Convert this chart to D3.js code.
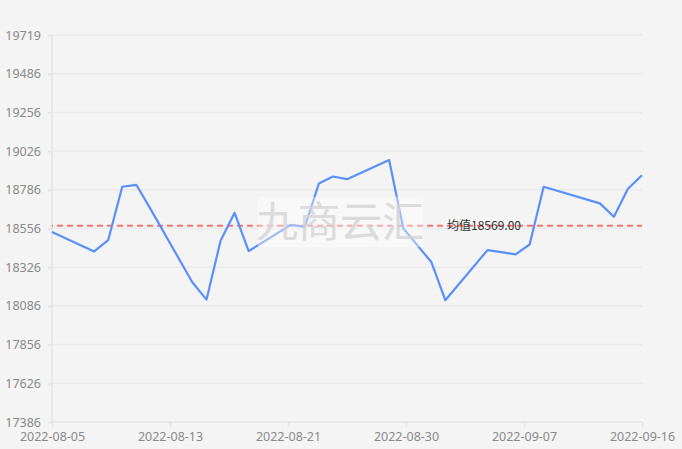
<!DOCTYPE html>
<html><head><meta charset="utf-8">
<script src="https://cdn.jsdelivr.net/npm/d3@7/dist/d3.min.js"></script>
<style>
html,body{margin:0;padding:0;background:#f4f4f4;}
svg{display:block;}
</style></head>
<body>
<svg id="chart" width="682" height="449"></svg>
<script>
const dates = ["2022-08-05","2022-08-08","2022-08-09","2022-08-10","2022-08-11","2022-08-12",
  "2022-08-15","2022-08-16","2022-08-17","2022-08-18","2022-08-19",
  "2022-08-22","2022-08-23","2022-08-24","2022-08-25","2022-08-26",
  "2022-08-29","2022-08-30","2022-08-31","2022-09-01","2022-09-02",
  "2022-09-05","2022-09-06","2022-09-07","2022-09-08","2022-09-09",
  "2022-09-13","2022-09-14","2022-09-15","2022-09-16"];
const prices = [18532,18414,18482,18804,18816,18672,
  18227,18124,18478,18647,18416,
  18574,18562,18824,18866,18850,
  18965,18555,18452,18351,18120,
  18422,18410,18396,18456,18804,
  18704,18623,18792,18874];
const yTickLabels = ["17386","17626","17856","18086","18326","18556","18786","19026","19256","19486","19719"];
const xTickLabels = ["2022-08-05","2022-08-13","2022-08-21","2022-08-30","2022-09-07","2022-09-16"];
const avgValue = 18569;
const avgLabel = "均值18569.00";
const watermark = "九商云汇";
const yMin = 17386, yMax = 19719;

const parse = d3.timeParse("%Y-%m-%d");
const data = dates.map((d,i)=>({date:parse(d), value:prices[i]}));

const svg = d3.select("#chart");
const margin = {left:52, right:40, top:35, bottom:27};
const W = 682, H = 449;
const x = d3.scaleTime().domain([parse(dates[0]), parse(dates[dates.length-1])]).range([margin.left, W-margin.right]);
const y = d3.scaleLinear().domain([yMin, yMax]).range([H-margin.bottom, margin.top]);

const font = "'Noto Sans','Open Sans',sans-serif";
const nY = yTickLabels.length - 1;
const yTickVals = yTickLabels.map((_,i)=> yMin + i*(yMax-yMin)/nY);
const nX = xTickLabels.length - 1;
const x0 = x.domain()[0].getTime(), x1 = x.domain()[1].getTime();
const xTickVals = xTickLabels.map((_,i)=> new Date(x0 + i*(x1-x0)/nX));

// grid
svg.append("g").selectAll("line").data(yTickVals.slice(1)).join("line")
  .attr("x1", margin.left).attr("x2", W-margin.right)
  .attr("y1", d=>y(d)).attr("y2", d=>y(d))
  .attr("stroke", "#e9e9e9").attr("stroke-width", 1.5);

// y axis
const yAxis = svg.append("g").attr("transform", `translate(${margin.left},0)`)
  .call(d3.axisLeft(y).tickValues(yTickVals).tickFormat((d,i)=>yTickLabels[i]).tickSize(4).tickPadding(7));
yAxis.select(".domain").attr("stroke","#e3e3e3").attr("stroke-width",1.5).attr("d", `M0,${y(yMax)}V${y(yMin)}`);
yAxis.selectAll(".tick line").attr("stroke","#e3e3e3").attr("stroke-width",1.5);
yAxis.selectAll("text").attr("fill","#8a8a8a").style("font-family",font).style("font-size","12.5px");

// x axis
const xAxis = svg.append("g").attr("transform", `translate(0,${H-margin.bottom})`)
  .call(d3.axisBottom(x).tickValues(xTickVals).tickFormat((d,i)=>xTickLabels[i]).tickSize(5).tickPadding(5));
xAxis.select(".domain").attr("stroke","#e3e3e3").attr("stroke-width",1.5).attr("d", `M${margin.left},0H${W-margin.right}`);
xAxis.selectAll(".tick line").attr("stroke","#e3e3e3").attr("stroke-width",1.5);
xAxis.selectAll("text").attr("fill","#8a8a8a").style("font-family",font).style("font-size","12.5px");

// average line
svg.append("line")
  .attr("x1", margin.left).attr("x2", W-margin.right)
  .attr("y1", y(avgValue)).attr("y2", y(avgValue))
  .attr("stroke", "#f57272").attr("stroke-width", 2)
  .attr("stroke-dasharray", "6,4").attr("stroke-dashoffset", 5);

// series line
const line = d3.line().x(d=>x(d.date)).y(d=>y(d.value));
svg.append("path").datum(data).attr("d", line)
  .attr("fill","none").attr("stroke","#5b8ff9").attr("stroke-width",2.2).attr("stroke-linejoin","round");

// average label
svg.append("text").attr("x", 447).attr("y", y(avgValue)).attr("dy","0.35em")
  .attr("fill","#333").style("font-family","'Noto Sans CJK SC','Noto Sans',sans-serif").style("font-size","12px")
  .text(avgLabel);

// watermark
const wm = svg.append("g");
wm.append("rect").attr("x",258).attr("y",197).attr("width",165).attr("height",50)
  .attr("fill","#ffffff").attr("opacity",0.4);
wm.append("text").attr("x",340).attr("y",222).attr("dy","0.36em").attr("text-anchor","middle")
  .attr("fill","#d4d4d4").attr("opacity",0.8)
  .style("font-family","'Noto Sans CJK SC',sans-serif").style("font-size","42px")
  .text(watermark);
</script>
</body></html>
